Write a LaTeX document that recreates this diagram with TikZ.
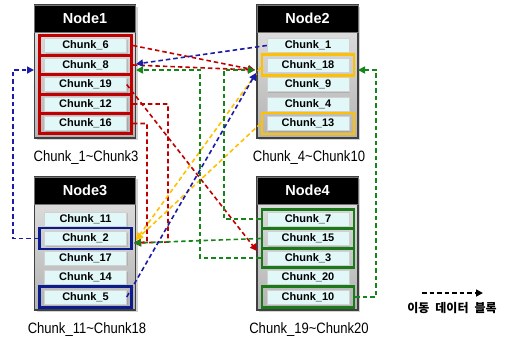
\documentclass[tikz,border=0pt]{standalone}
\usepackage{fontspec}
\setmainfont{Liberation Sans}
\newfontfamily\capfont[FakeStretch=0.87]{Liberation Sans}
\newfontfamily\krfont[WordSpace=2.2]{Noto Sans CJK KR}
\usetikzlibrary{arrows.meta,shadows}
\definecolor{chunkfill}{HTML}{E2F8F8}
\definecolor{lnred}{HTML}{C00000}
\definecolor{lnblue}{HTML}{1C1CA8}
\definecolor{lngreen}{HTML}{17861A}
\definecolor{lnorange}{HTML}{FFC000}
\definecolor{rgred}{HTML}{C00000}
\definecolor{rgorange}{HTML}{FFC000}
\definecolor{rgblue}{HTML}{0B1C8C}
\definecolor{rggreen}{HTML}{1A7A1A}
\tikzset{
  nodebody/.style={draw=black!75, line width=1.2pt, top color=black!10, bottom color=black!30,
    minimum width=101pt, minimum height=133pt, inner sep=0pt,
    drop shadow={shadow xshift=2pt, shadow yshift=-2pt, opacity=0.35}},
  nodehead/.style={fill=black, draw=black!55, line width=0.8pt, minimum width=101pt,
    minimum height=27pt, inner sep=0pt, text=white,
    font=\bfseries\fontsize{14.5}{16}\selectfont},
  chunkbox/.style={fill=chunkfill, draw=black!18, line width=0.4pt, minimum width=82pt,
    minimum height=14pt, inner sep=0pt, font=\bfseries\fontsize{11}{12}\selectfont,
    drop shadow={shadow xshift=1pt, shadow yshift=-1pt, opacity=0.3}},
  ring/.style={draw=#1, line width=2.8pt, minimum width=92pt, minimum height=19.5pt, inner sep=0pt},
  tallring/.style={ring=#1, minimum height=21pt},
  caption/.style={font=\capfont\fontsize{15}{17}\selectfont},
  moveline/.style={draw=#1, line width=1.6pt, dash pattern=on 4.5pt off 3pt},
  movearrow/.style={moveline=#1, -{Triangle[length=7pt,width=7pt]}},
}
\begin{document}
\begin{tikzpicture}[x=1pt,y=-1pt]
\useasboundingbox (0,0) rectangle (510,341);

% ---- Node boxes ----
\node[nodebody] (N1) at (85,71.5) {};
\node[nodehead] (H1) at (85,18.5) {Node1};
\node[nodebody] (N2) at (307.5,71.5) {};
\node[nodehead] (H2) at (307.5,18.5) {Node2};
\node[nodebody] (N3) at (85,243.5) {};
\node[nodehead] (H3) at (85,190.5) {Node3};
\node[nodebody] (N4) at (307.5,243.5) {};
\node[nodehead] (H4) at (307.5,190.5) {Node4};

% ---- Chunks ----
\node[chunkbox] (c6)  at (85.5,45.5)  {Chunk\_6};
\node[chunkbox] (c8)  at (85.5,65)    {Chunk\_8};
\node[chunkbox] (c19) at (85.5,84.5)  {Chunk\_19};
\node[chunkbox] (c12) at (85.5,104)   {Chunk\_12};
\node[chunkbox] (c16) at (85.5,123.5) {Chunk\_16};

\node[chunkbox] (c1)  at (308,45.5)  {Chunk\_1};
\node[chunkbox] (c18) at (308,65)    {Chunk\_18};
\node[chunkbox] (c9)  at (308,84.5)  {Chunk\_9};
\node[chunkbox] (c4)  at (308,104)   {Chunk\_4};
\node[chunkbox] (c13) at (308,123.5) {Chunk\_13};

\node[chunkbox] (c11) at (85.5,219)   {Chunk\_11};
\node[chunkbox] (c2)  at (85.5,238.5) {Chunk\_2};
\node[chunkbox] (c17) at (85.5,258)   {Chunk\_17};
\node[chunkbox] (c14) at (85.5,277.5) {Chunk\_14};
\node[chunkbox] (c5)  at (85.5,297)   {Chunk\_5};

\node[chunkbox] (c7)  at (308,219)   {Chunk\_7};
\node[chunkbox] (c15) at (308,238.5) {Chunk\_15};
\node[chunkbox] (c3)  at (308,258)   {Chunk\_3};
\node[chunkbox] (c20) at (308,277.5) {Chunk\_20};
\node[chunkbox] (c10) at (308,297)   {Chunk\_10};

% ---- Highlight rings around moved chunks ----
\node[ring=rgred] (r6)  at (c6)  {};
\node[ring=rgred] (r8)  at (c8)  {};
\node[ring=rgred] (r19) at (c19) {};
\node[ring=rgred] (r12) at (c12) {};
\node[ring=rgred] (r16) at (c16) {};
\node[tallring=rgorange] (o18) at (c18) {};
\node[tallring=rgorange] (o13) at (c13) {};
\node[tallring=rgblue] (b2) at (c2) {};
\node[tallring=rgblue] (b5) at (c5) {};
\node[ring=rggreen] (g7)  at (c7)  {};
\node[ring=rggreen] (g15) at (c15) {};
\node[ring=rggreen] (g3)  at (c3)  {};
\node[tallring=rggreen] (g10) at (c10) {};

% ---- Captions ----
\node[caption] (t1) at (86,158) {Chunk\_1\textasciitilde Chunk3};
\node[caption] (t2) at (309,158) {Chunk\_4\textasciitilde Chunk10};
\node[caption] (t3) at (87,330) {Chunk\_11\textasciitilde Chunk18};
\node[caption] (t4) at (309,330) {Chunk\_19\textasciitilde Chunk20};

% ---- Arrival points ----
\coordinate (in18)  at (255,70);
\coordinate (in18b) at (256,73);
\coordinate (in18r) at (358,70);
\coordinate (in8)   at (136,64);
\coordinate (in8g)  at (136,70);
\coordinate (in8l)  at (34,70);
\coordinate (in2)   at (134,243);
\coordinate (in2o)  at (136,240);
\coordinate (in3)   at (257,251);

% ---- Red moves ----
\draw[movearrow=lnred] (r12.east) -- (168,104) -- (168,242) -- (in2);
\draw[movearrow=lnred] (r16.east) -- (147,123.5) -- (147,242) -- (in2);
\draw[movearrow=lnred] (r6.east) -- (in18);
\draw[movearrow=lnred] (r8.east) -- (in18);
\draw[movearrow=lnred] (c19.east) -- (in3);

% ---- Orange moves ----
\draw[movearrow=lnorange] ([yshift=-2.5pt]o18.west) -- (in2o);
\draw[movearrow=lnorange] (o13.west) -- (in2o);

% ---- Green moves ----
\draw[movearrow=lngreen] (g7.west) -- (224,219) -- (224,70) -- (in18);
\draw[movearrow=lngreen] (g3.west) -- (200,258) -- (200,70) -- (in8g);
\draw[movearrow=lngreen] (g15.west) -- (in2);
\draw[movearrow=lngreen] (g10.east) -- (376,297) -- (376,70) -- (in18r);

% ---- Blue moves ----
\draw[movearrow=lnblue] (c1.west) -- (in8);
\draw[movearrow=lnblue] (c5.east) -- (in18b);
\draw[movearrow=lnblue] (b2.west) -- (13,238.5) -- (13,70) -- (in8l);

% ---- Legend ----
\coordinate (lg1) at (422,293);
\coordinate (lg2) at (483,293);
\draw[movearrow=black] (lg1) -- (lg2);
\node[font=\krfont\bfseries\fontsize{12}{14}\selectfont] (lgt) at (452,308) {이동 데이터 블록};
\end{tikzpicture}
\end{document}
